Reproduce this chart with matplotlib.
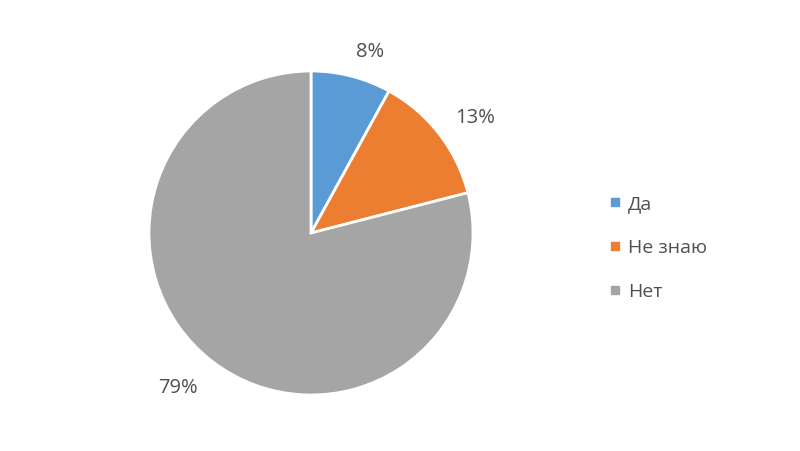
import numpy as np
import matplotlib.pyplot as plt
from matplotlib.lines import Line2D

plt.rcParams['font.family'] = ['Open Sans', 'DejaVu Sans']

categories = ['Да', 'Не знаю', 'Нет']
shares = [8, 13, 79]
colors = ['#5B9BD5', '#ED7D31', '#A5A5A5']
text_color = '#505050'

# label placement around the pie: (radius factor, angle in degrees)
label_spots = [(1.175, 72), (1.24, 35), (1.26, 229.5)]

fig = plt.figure(figsize=(8, 4.51), dpi=100)
# pie axes: centre (311, 233) px, radius 162 px
ax = fig.add_axes([149 / 800, (451 - 233 - 162) / 451, 324 / 800, 324 / 451])

wedges, _, pcts = ax.pie(
    shares, colors=colors, startangle=90, counterclock=False,
    autopct=lambda p: f'{p:.0f}%', pctdistance=1.2, radius=1,
    wedgeprops=dict(edgecolor='white', linewidth=2),
    textprops=dict(color=text_color, fontsize=14.5),
)
for txt, (r, a) in zip(pcts, label_spots):
    t = np.deg2rad(a)
    txt.set_position((r * np.cos(t), r * np.sin(t)))

ax.set_xlim(-1, 1)
ax.set_ylim(-1, 1)
ax.set_aspect('equal')

handles = [Line2D([], [], marker='s', linestyle='none', markersize=6,
                  markerfacecolor=c, markeredgecolor=c) for c in colors]
fig.legend(handles, categories, loc='center left',
           bbox_to_anchor=(600 / 800, 1 - 248 / 451), frameon=False,
           fontsize=14, labelcolor=text_color, handlelength=0.5,
           handletextpad=0.45, labelspacing=1.35, borderpad=0)

fig.savefig('out.png', dpi=100, facecolor='white')
plt.close()
